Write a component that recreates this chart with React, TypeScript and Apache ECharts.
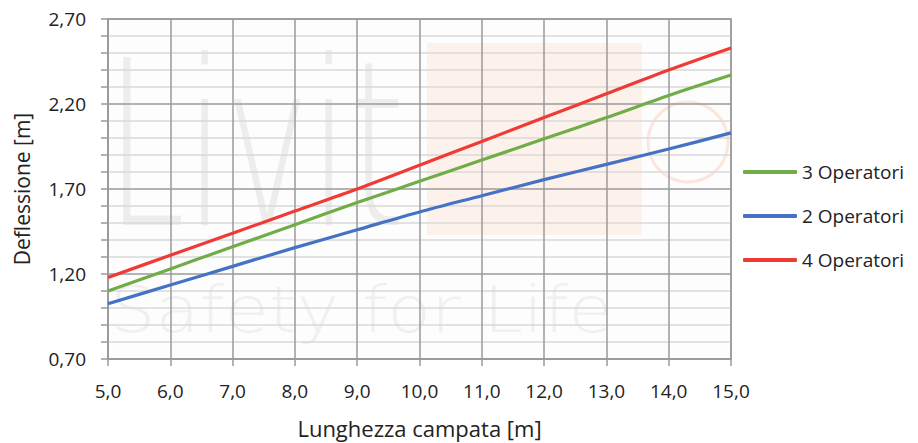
import React, { useEffect, useRef } from "react";
import * as echarts from "echarts";

const xValues = [5, 6, 7, 8, 9, 10, 11, 12, 13, 14, 15];
const seriesNames = ["3 Operatori", "2 Operatori", "4 Operatori"];
const ops3 = [1.10, 1.23, 1.36, 1.49, 1.62, 1.745, 1.87, 1.995, 2.12, 2.25, 2.37];
const ops2 = [1.025, 1.135, 1.245, 1.355, 1.46, 1.565, 1.66, 1.755, 1.845, 1.935, 2.03];
const ops4 = [1.18, 1.31, 1.44, 1.57, 1.70, 1.84, 1.98, 2.12, 2.26, 2.40, 2.53];
const colors = ["#70AD47", "#4472C4", "#F03A35"];

const FONT = "'Open Sans', sans-serif";

export default function App() {
  const ref = useRef<HTMLDivElement>(null);
  useEffect(() => {
    if (!ref.current) return;
    const chart = echarts.init(ref.current, undefined, { renderer: "svg" });
    const data = [ops3, ops2, ops4];
    chart.setOption({
      animation: false,
      backgroundColor: "#ffffff",
      grid: { left: 108, right: 187, top: 19, bottom: 84, outerBoundsMode: "none", containLabel: false, show: true, borderColor: "#9a9a9a", borderWidth: 1.5, backgroundColor: "#fdfdfd" },
      graphic: [
        { type: "rect", z: 0, shape: { x: 427, y: 43, width: 215, height: 192 }, style: { fill: "#fdf1ec" } },
        { type: "circle", z: 0, shape: { cx: 688, cy: 142, r: 40 }, style: { fill: "none", stroke: "#fbe6de", lineWidth: 3 } },
        { type: "text", z: 0, x: 106, y: 30, scaleX: 0.62, style: { text: "Livit", fontSize: 230, fontFamily: "'DejaVu Sans', sans-serif", fontWeight: 200, fill: "#ededed" } },
        { type: "text", z: 0, x: 110, y: 278, scaleX: 1.12, style: { text: "Safety for Life", fontSize: 64, fontFamily: "'DejaVu Sans', sans-serif", fontWeight: 200, fill: "#f0f0f0" } },
      ],
      legend: {
        orient: "vertical",
        left: 743,
        top: 159,
        padding: 0,
        itemWidth: 54,
        itemHeight: 4,
        itemGap: 18,
        itemStyle: { borderWidth: 0 },
        icon: "roundRect",
        textStyle: { fontSize: 19, lineHeight: 26, fontFamily: FONT, color: "#222", padding: [0, 0, 0, 0] },
        data: seriesNames,
      },
      xAxis: {
        type: "value",
        min: 5,
        max: 15,
        interval: 1,
        name: "Lunghezza campata [m]",
        nameLocation: "middle",
        nameGap: 58,
        nameTextStyle: { fontSize: 22, fontFamily: FONT, color: "#222" },
        axisLine: { show: true, lineStyle: { color: "#9a9a9a", width: 1.5 } },
        axisTick: { show: true, inside: false, length: 7, lineStyle: { color: "#9a9a9a", width: 1.5 } },
        axisLabel: { fontSize: 19, fontFamily: FONT, color: "#222", margin: 22, formatter: (v: number) => v.toFixed(1).replace(".", ",") },
        splitLine: { show: true, lineStyle: { color: "#9a9a9a", width: 1.5 } },
      },
      yAxis: {
        type: "value",
        min: 0.7,
        max: 2.7,
        interval: 0.5,
        name: "Deflessione [m]",
        nameLocation: "middle",
        nameGap: 76,
        nameRotate: 90,
        nameTextStyle: { fontSize: 21, fontFamily: FONT, color: "#222" },
        axisLine: { show: true, lineStyle: { color: "#9a9a9a", width: 1.5 } },
        axisTick: { show: true, inside: false, length: 7, lineStyle: { color: "#9a9a9a", width: 1.5 } },
        minorTick: { show: true, splitNumber: 5, length: 7, lineStyle: { color: "#9a9a9a", width: 1.5 } },
        minorSplitLine: { show: true, lineStyle: { color: "#d9d9d9", width: 1.5 } },
        axisLabel: { fontSize: 19, fontFamily: FONT, color: "#222", margin: 22, formatter: (v: number) => v.toFixed(2).replace(".", ",") },
        splitLine: { show: true, lineStyle: { color: "#9a9a9a", width: 1.5 } },
      },
      series: seriesNames.map((name, i) => ({
        name,
        type: "line",
        showSymbol: false,
        symbol: "none",
        smooth: 0.3,
        z: 5,
        color: colors[i],
        lineStyle: { width: 3.2, color: colors[i] },
        data: xValues.map((x, j) => [x, data[i][j]]),
      })),
    });
    return () => chart.dispose();
  }, []);
  return <div ref={ref} style={{ width: 918, height: 443, position: "absolute", left: 0, top: 0 }} />;
}
